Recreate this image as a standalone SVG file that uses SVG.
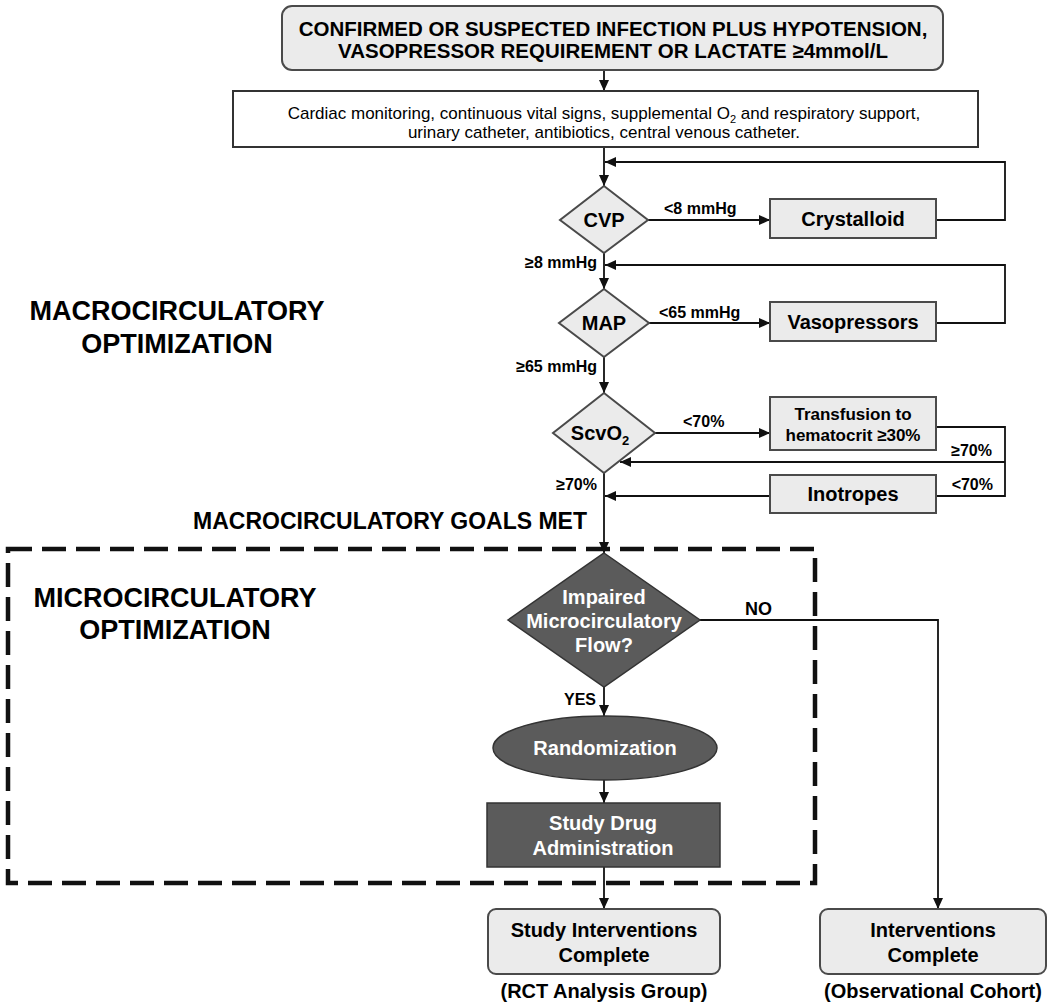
<svg xmlns="http://www.w3.org/2000/svg" width="1050" height="1008" viewBox="0 0 1050 1008">
<style>
text{font-family:"Liberation Sans",Arial,sans-serif;fill:#000}
.b{font-weight:bold}
.light{fill:#ebebeb;stroke:#4a4a4a;stroke-width:2}
.dark{fill:#5b5b5b;stroke:#333;stroke-width:1.5}
.w{fill:#fff;font-weight:bold}
.c{fill:none;stroke:#111;stroke-width:1.8}
.big{font-size:27px;font-weight:bold}
</style>
<defs>
<marker id="ah" markerUnits="userSpaceOnUse" markerWidth="11" markerHeight="10" refX="11" refY="5" orient="auto"><path d="M0,0 L11,5 L0,10 z" fill="#111"/></marker>
</defs>
<rect width="1050" height="1008" fill="#fff"/>

<g id="labels">
<text class="big" x="177" y="320" text-anchor="middle">MACROCIRCULATORY</text>
<text class="big" x="177" y="353" text-anchor="middle">OPTIMIZATION</text>
<text class="big" x="175" y="607" text-anchor="middle">MICROCIRCULATORY</text>
<text class="big" x="175" y="639" text-anchor="middle">OPTIMIZATION</text>
<text class="b" x="193" y="529" font-size="23">MACROCIRCULATORY GOALS MET</text>
<rect x="8" y="549" width="807" height="334" fill="none" stroke="#111" stroke-width="4.5" stroke-dasharray="24 10"/>
</g>

<g id="connectors">
<path class="c" d="M604,70 V91" marker-end="url(#ah)"/>
<path class="c" d="M604,147 V186" marker-end="url(#ah)"/>
<path class="c" d="M648,220 H770" marker-end="url(#ah)"/>
<path class="c" d="M936,220 H1005 V162 H605" marker-end="url(#ah)"/>
<path class="c" d="M604,253 V289" marker-end="url(#ah)"/>
<path class="c" d="M649,323 H770" marker-end="url(#ah)"/>
<path class="c" d="M936,323 H1005 V265 H605" marker-end="url(#ah)"/>
<path class="c" d="M604,357 V393" marker-end="url(#ah)"/>
<path class="c" d="M655,433 H770" marker-end="url(#ah)"/>
<path class="c" d="M936,427 H1005 V496 H936"/>
<path class="c" d="M1005,462 H620" marker-end="url(#ah)"/>
<path class="c" d="M770,496 H605" marker-end="url(#ah)"/>
<path class="c" d="M604,473 V553" marker-end="url(#ah)"/>
<path class="c" d="M700,620 H938 V909" marker-end="url(#ah)"/>
<path class="c" d="M604,687 V716" marker-end="url(#ah)"/>
<path class="c" d="M604,780 V803" marker-end="url(#ah)"/>
<path class="c" d="M604,867 V909" marker-end="url(#ah)"/>
<text class="b" x="664" y="214" font-size="16">&lt;8 mmHg</text>
<text class="b" x="597" y="268" font-size="16" text-anchor="end">≥8 mmHg</text>
<text class="b" x="659" y="318" font-size="16">&lt;65 mmHg</text>
<text class="b" x="597" y="372" font-size="16" text-anchor="end">≥65 mmHg</text>
<text class="b" x="683" y="427" font-size="16">&lt;70%</text>
<text class="b" x="992" y="456" font-size="16" text-anchor="end">≥70%</text>
<text class="b" x="993" y="490" font-size="16" text-anchor="end">&lt;70%</text>
<text class="b" x="597" y="490" font-size="16" text-anchor="end">≥70%</text>
<text class="b" x="745" y="615" font-size="18">NO</text>
<text class="b" x="596" y="705" font-size="16" text-anchor="end">YES</text>
</g>

<g id="n-start">
<rect class="light" x="282" y="6" width="661" height="64" rx="10"/>
<text class="b" x="613" y="36" font-size="20.5" text-anchor="middle">CONFIRMED OR SUSPECTED INFECTION PLUS HYPOTENSION,</text>
<text class="b" x="613" y="58" font-size="20.5" text-anchor="middle">VASOPRESSOR REQUIREMENT OR LACTATE ≥4mmol/L</text>
</g>

<g id="n-monitor">
<rect x="233" y="91" width="745" height="56" fill="#fff" stroke="#333" stroke-width="2"/>
<text x="604" y="119" font-size="17" text-anchor="middle">Cardiac monitoring, continuous vital signs, supplemental O<tspan font-size="11" dy="4">2</tspan><tspan dy="-4"> and respiratory support,</tspan></text>
<text x="604" y="138" font-size="17" text-anchor="middle">urinary catheter, antibiotics, central venous catheter.</text>
</g>

<g id="n-cvp">
<polygon class="light" points="604,186 648,220 604,253 560,220"/>
<text class="b" x="604" y="227" font-size="20" text-anchor="middle">CVP</text>
</g>
<g id="n-crystalloid">
<rect class="light" x="770" y="199" width="166" height="39"/>
<text class="b" x="853" y="226" font-size="20" text-anchor="middle">Crystalloid</text>
</g>

<g id="n-map">
<polygon class="light" points="604,289 649,323 604,357 559,323"/>
<text class="b" x="604" y="330" font-size="20" text-anchor="middle">MAP</text>
</g>
<g id="n-vaso">
<rect class="light" x="770" y="302" width="166" height="39"/>
<text class="b" x="853" y="329" font-size="20" text-anchor="middle">Vasopressors</text>
</g>

<g id="n-scvo2">
<polygon class="light" points="604,393 655,433 604,473 553,433"/>
<text class="b" x="600" y="440" font-size="20" text-anchor="middle">ScvO<tspan font-size="13" dy="5">2</tspan></text>
</g>
<g id="n-transfusion">
<rect class="light" x="770" y="397" width="166" height="53"/>
<text class="b" x="853" y="420" font-size="17" text-anchor="middle">Transfusion to</text>
<text class="b" x="853" y="441" font-size="17" text-anchor="middle">hematocrit ≥30%</text>
</g>
<g id="n-inotropes">
<rect class="light" x="770" y="475" width="166" height="38"/>
<text class="b" x="853" y="501" font-size="20" text-anchor="middle">Inotropes</text>
</g>

<g id="n-impaired">
<polygon class="dark" points="604,553 700,620 604,687 508,620"/>
<text class="w" x="604" y="604" font-size="20" text-anchor="middle">Impaired</text>
<text class="w" x="604" y="628" font-size="20" text-anchor="middle">Microcirculatory</text>
<text class="w" x="604" y="652" font-size="20" text-anchor="middle">Flow?</text>
</g>

<g id="n-random">
<ellipse class="dark" cx="605" cy="748" rx="112" ry="32"/>
<text class="w" x="605" y="755" font-size="20" text-anchor="middle">Randomization</text>
</g>

<g id="n-drug">
<rect class="dark" x="487" y="803" width="233" height="64"/>
<text class="w" x="603" y="830" font-size="20" text-anchor="middle">Study Drug</text>
<text class="w" x="603" y="855" font-size="20" text-anchor="middle">Administration</text>
</g>

<g id="n-study-complete">
<rect class="light" x="488" y="909" width="232" height="65" rx="8"/>
<text class="b" x="604" y="937" font-size="20" text-anchor="middle">Study Interventions</text>
<text class="b" x="604" y="962" font-size="20" text-anchor="middle">Complete</text>
<text class="b" x="604" y="998" font-size="20" text-anchor="middle">(RCT Analysis Group)</text>
</g>

<g id="n-obs-complete">
<rect class="light" x="820" y="909" width="226" height="65" rx="8"/>
<text class="b" x="933" y="937" font-size="20" text-anchor="middle">Interventions</text>
<text class="b" x="933" y="962" font-size="20" text-anchor="middle">Complete</text>
<text class="b" x="933" y="998" font-size="20" text-anchor="middle">(Observational Cohort)</text>
</g>
</svg>
